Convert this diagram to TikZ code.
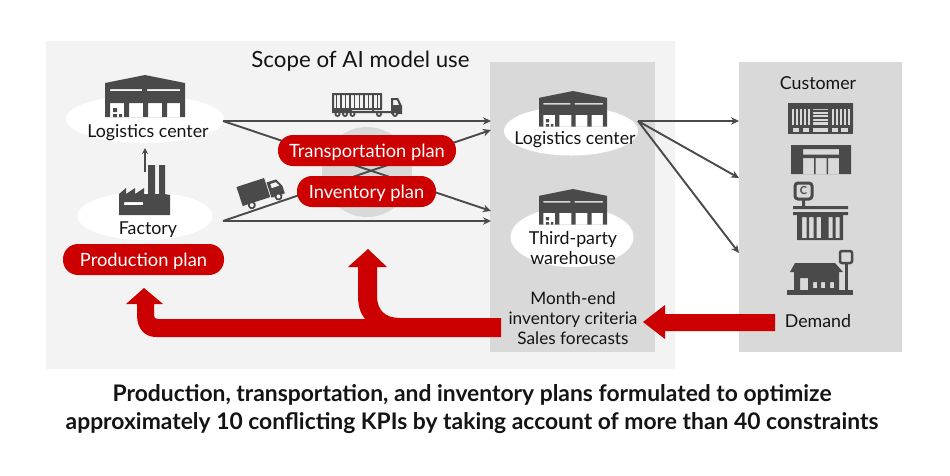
\documentclass[tikz,border=0pt]{standalone}
\usepackage{fontspec}
\setmainfont{Lato}
\usetikzlibrary{shapes.geometric,arrows.meta}
\definecolor{icon}{HTML}{4A4A4A}
\definecolor{redc}{HTML}{CC0000}
\definecolor{lightbg}{HTML}{F3F3F3}
\definecolor{panel}{HTML}{D9D9D9}
\definecolor{ink}{HTML}{141414}
\tikzset{
  lbl/.style={text=ink,align=center,inner sep=0pt,font=\fontsize{17.8}{20}\selectfont},
  oval/.style={ellipse,fill=white,inner sep=0pt},
  pill/.style={rectangle,fill=redc,text=white,rounded corners=15pt,inner sep=0pt,minimum height=31pt,text height=16pt,text depth=2.5pt,font=\fontsize{18.3}{20}\selectfont},
  flow/.style={draw=icon,line width=1.9pt,-{Stealth[length=8pt,width=7.5pt]}},
  warehouse/.pic={
    \fill[icon,even odd rule] (0,8)--(40,0)--(80,8)--(80,42)--(0,42)--cycle
      (5,14) rectangle (37,16) (42,14) rectangle (75,16)
      (5,28) rectangle (19,42) (24,28) rectangle (38,42) (43,28) rectangle (57,42) (62,28) rectangle (75,42);
    \fill[icon] (8,33) rectangle (12,37) (8,39) rectangle (12,42) (14,39) rectangle (17,42);
  },
  factory/.pic={
    \fill[icon,even odd rule] (0,29)--(7,23)--(7,29)--(16,23)--(16,29)--(25,23)--(25,29)--(29,29)--(29,0)--(36,0)--(36,29)--(40,29)--(40,0)--(46,0)--(46,29)--(51,30)--(51,50)--(0,50)--cycle
      (5,37) rectangle (24,40);
  },
  contruck/.pic={
    \fill[icon,even odd rule] (0,0) rectangle (50,17)
      (2,2) rectangle (48,15);
    \foreach \i in {0,...,9} \fill[icon] ({3.5+\i*4.6},2) rectangle ({5+\i*4.6},15);
    \fill[icon] (0,17) rectangle (20,20) (20,18) rectangle (60,20) (40,15) rectangle (42,20);
    \fill[icon,even odd rule] (59,5)--(66,5)--(70,13)--(70,21)--(59,21)--cycle (61,7)--(65,7)--(67,12)--(61,12)--cycle;
    \foreach \p in {5.5,13,20.5,47,63} {\fill[icon] (\p,21) circle (3pt); \fill[lightbg] (\p,21) circle (1.2pt);}
  },
  boxtruck/.pic={
    \fill[icon] (0,0) rectangle (29,20);
    \fill[icon,even odd rule] (30,5) -- (40,5) -- (44,13) -- (44,21) -- (30,21) -- cycle (33,7.5)--(39,7.5)--(41.5,12)--(33,12)--cycle;
    \foreach \p in {9,37} {\fill[icon] (\p,22) circle (4pt); \fill[lightbg] (\p,22) circle (2pt);}
  },
  mall/.pic={
    \fill[icon,even odd rule] (0,0) rectangle (65,26)
      (25,6) rectangle (40,22);
    \foreach \x in {4,8,12,16,20,44,48,52,56,60} \fill[panel] (\x,5.5) rectangle (\x+1.6,22);
    \foreach \y in {7,10.5,14,17.5} \fill[icon] (25,\y) rectangle (40,\y+1.5);
    \fill[icon] (0,26) rectangle (65,29);
    \foreach \a/\b in {5/11,15/21,25/40,44/50,53/60} \fill[panel] (\a,25) rectangle (\b,29);
    \fill[icon] (0,29) rectangle (65,31);
  },
  gate/.pic={
    \fill[icon,even odd rule] (0,0) rectangle (60,29)
      (12,4) rectangle (48,9.5) (12,13) rectangle (48,29);
    \fill[icon] (23,13) rectangle (24.5,29) (35.5,13) rectangle (37,29);
  },
  cstore/.pic={
    \draw[icon,line width=3pt,rounded corners=3pt] (1,1) rectangle (18,17);
    \node[text=icon,inner sep=0pt,font=\bfseries\fontsize{11}{11}\selectfont] (cs) at (9.5,9) {C};
    \fill[icon] (8,18) rectangle (11,24) (-1,24) rectangle (54,27) (-1,30) rectangle (54,33);
    \fill[icon,even odd rule] (3,33) rectangle (49,58)
      (8,35) rectangle (12.5,56) (15,35) rectangle (19.5,56) (22.5,35) rectangle (27,56) (34.5,35) rectangle (38.5,56) (41.5,35) rectangle (45.5,56);
  },
  shop/.pic={
    \fill[icon] (8,14)--(48,14)--(56,23)--(3,23)--cycle;
    \fill[icon,even odd rule] (7,23) rectangle (52,41) (13,29) rectangle (21,41) (26,33) rectangle (30,39) (34,33) rectangle (38,39) (43,33) rectangle (47,39);
    \draw[icon,line width=2.5pt,rounded corners=2pt] (53,2) rectangle (65,14);
    \fill[icon] (57.5,14) rectangle (60.5,41);
    \fill[icon] (0,41) rectangle (66,45.5);
  }
}
\begin{document}
\begin{tikzpicture}[x=1pt,y=-1pt]
\useasboundingbox (0,0) rectangle (950,475);
\fill[white] (0,0) rectangle (950,475);
\fill[lightbg] (46,41) rectangle (675,369);
\fill[panel] (490,62) rectangle (655,352);
\fill[panel] (739,62) rectangle (902,352);
\fill[panel] (367,172) circle (45pt);

\node[oval,minimum width=158pt,minimum height=48pt] (lcA) at (145,119) {};
\node[oval,minimum width=135pt,minimum height=48pt] (facO) at (145,216) {};
\node[oval,minimum width=134pt,minimum height=49pt] (lcB) at (571,131) {};
\node[oval,minimum width=123pt,minimum height=60pt] (tpw) at (572,237) {};

\coordinate (s1) at (223,121);
\coordinate (s2) at (223,221);
\coordinate (s3) at (638,121);
\coordinate (t1) at (491,121);
\coordinate (t2) at (491,130);
\coordinate (t3) at (491,211);
\coordinate (t4) at (491,221);
\coordinate (c1) at (739,121);
\coordinate (c2) at (739,178);
\coordinate (c3) at (739,253);
\coordinate (u1) at (145,172);
\coordinate (u2) at (145,148);

\draw[flow] (s1) -- (t1);
\draw[flow] (s1) -- (t3);
\draw[flow] (s2) -- (t2);
\draw[flow] (s2) -- (t4);
\draw[flow] (s3) -- (c1);
\draw[flow] (s3) -- (c2);
\draw[flow] (s3) -- (c3);
\draw[draw=icon,line width=1.2pt,-{Stealth[length=6pt,width=6pt]}] (u1) -- (u2);

\pic at (105,75) {warehouse};
\pic[scale=.85] at (539,91) {warehouse};
\pic[scale=.85] at (539,189) {warehouse};
\pic at (119,165) {factory};
\pic at (332,93) {contruck};
\pic[rotate=18] at (236.5,187) {boxtruck};
\pic at (788,103) {mall};
\pic at (791,145) {gate};
\pic at (794,182) {cstore};
\pic at (787,249) {shop};

\node[pill,minimum width=178pt] (tp) at (367,150.5) {Transportation plan};
\node[pill,minimum width=139pt] (ip) at (366.5,191.5) {Inventory plan};
\node[pill,minimum width=161pt] (pp) at (143.5,259.5) {Production plan};

\node[lbl] (l1) at (148,133) {Logistics center};
\node[lbl] (l2) at (148,230) {Factory};
\node[lbl] (l3) at (575,140) {Logistics center};
\node[lbl] (l4) at (573,248) {Third-party\\warehouse};
\node[lbl,font=\fontsize{17.2}{20}\selectfont] (l5) at (573,318) {Month-end\\inventory criteria\\Sales forecasts};
\node[lbl] (l6) at (818,83.5) {Customer};
\node[lbl] (l7) at (818,321) {Demand};
\node[lbl,font=\fontsize{22.3}{24}\selectfont] (title) at (360.5,61) {Scope of AI model use};
\node[lbl,font=\bfseries\fontsize{22.85}{28}\selectfont] (cap) at (472,409) {Production, transportation, and inventory plans formulated to optimize\\approximately 10 conflicting KPIs by taking account of more than 40 constraints};

% red arrows
\fill[redc] (775,314) -- (665,314) -- (665,305) -- (643,322) -- (665,339) -- (665,331) -- (775,331) -- cycle;
\fill[redc] (501,318) -- (400,318) .. controls (385,318) and (377,310) .. (377,296) -- (377,267) -- (387,267) -- (368,249) -- (348,267) -- (358,267) -- (358,296) .. controls (358,305) and (360,313) .. (365,319)
 -- (158,319) .. controls (155,319) and (154,318) .. (154,315) -- (154,304) -- (163,304) -- (144,288) -- (126,304) -- (137,304) -- (137,315) .. controls (137,329) and (145,337) .. (156,337) -- (501,337) -- cycle;
\end{tikzpicture}
\end{document}
